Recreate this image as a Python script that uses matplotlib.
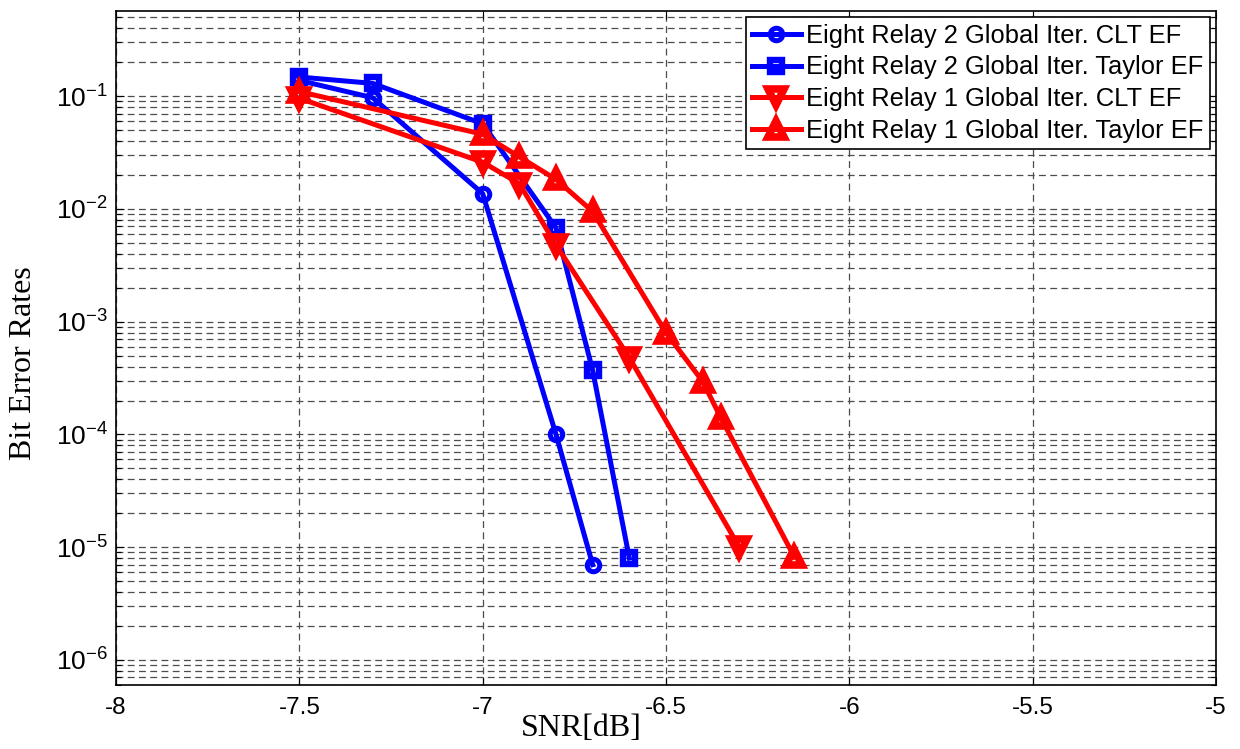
import numpy as np
import matplotlib
matplotlib.use("Agg")
import matplotlib.pyplot as plt
from matplotlib.ticker import FixedLocator, LogFormatterSciNotation, NullFormatter, MultipleLocator, FormatStrFormatter

plt.rcParams['font.family'] = ['Liberation Sans', 'DejaVu Sans']
plt.rcParams['axes.unicode_minus'] = False
plt.rcParams['mathtext.fontset'] = 'custom'
plt.rcParams['mathtext.rm'] = 'Liberation Sans'

# ---- data ----
snr_clt2 = [-7.5, -7.3, -7.0, -6.8, -6.7]
ber_clt2 = [0.138, 0.097, 0.0137, 1.0e-4, 7.0e-6]

snr_tay2 = [-7.5, -7.3, -7.0, -6.8, -6.7, -6.6]
ber_tay2 = [0.148, 0.130, 0.057, 0.0068, 3.7e-4, 8.0e-6]

snr_clt1 = [-7.5, -7.0, -6.9, -6.8, -6.6, -6.3]
ber_clt1 = [0.096, 0.026, 0.0168, 0.0048, 4.8e-4, 1.0e-5]

snr_tay1 = [-7.5, -7.0, -6.9, -6.8, -6.7, -6.5, -6.4, -6.35, -6.15]
ber_tay1 = [0.11, 0.046, 0.029, 0.0183, 0.0095, 8.0e-4, 2.95e-4, 1.4e-4, 8.2e-6]

labels = ['Eight Relay 2 Global Iter. CLT EF',
          'Eight Relay 2 Global Iter. Taylor EF',
          'Eight Relay 1 Global Iter. CLT EF',
          'Eight Relay 1 Global Iter. Taylor EF']

y_decades = [1e-6, 1e-5, 1e-4, 1e-3, 1e-2, 1e-1]

fig = plt.figure(figsize=(12.4, 7.49), dpi=100)
ax = fig.add_axes([116/1240, 1-685/749, 1100/1240, 674/749])

lw = 3.6
ax.semilogy(snr_clt2, ber_clt2, '-o', color='#0000ff', lw=lw, ms=9, mfc='none', mew=3.6, label=labels[0])
ax.semilogy(snr_tay2, ber_tay2, '-s', color='#0000ff', lw=lw, ms=8, mfc='none', mew=4.6, label=labels[1])
ax.semilogy(snr_clt1, ber_clt1, '-v', color='#ff0000', lw=lw, ms=12, mfc='none', mew=5.5, label=labels[2])
ax.semilogy(snr_tay1, ber_tay1, '-^', color='#ff0000', lw=lw, ms=12, mfc='none', mew=5.5, label=labels[3])

ax.set_xlim(-8, -5)
ax.set_ylim(6e-7, 0.57)
ax.xaxis.set_major_locator(MultipleLocator(0.5))
ax.xaxis.set_major_formatter(FormatStrFormatter('%g'))
minor_y = [d * k for d in y_decades for k in range(2, 10)]
minor_y = [v for v in minor_y if 6e-7 <= v <= 0.57] + [6e-7, 7e-7, 8e-7, 9e-7]
ax.yaxis.set_major_locator(FixedLocator(y_decades))
ax.yaxis.set_minor_locator(FixedLocator(sorted(set(minor_y))))
ax.yaxis.set_major_formatter(LogFormatterSciNotation())
ax.yaxis.set_minor_formatter(NullFormatter())

ax.tick_params(which='both', direction='in', top=True, right=True, labelsize=17.5, colors='black')
ax.tick_params(which='major', length=6, width=0.8)
ax.tick_params(which='minor', length=3.5, width=0.8, labelleft=False, labelbottom=False)
ax.tick_params(axis='x', pad=9)
ax.tick_params(axis='y', labelsize=19, pad=6)

dash = (0, (5.5, 3.5))
ax.grid(True, which='major', axis='both', color='0.3', lw=0.9, linestyle=dash)
ax.grid(True, which='minor', axis='y', color='0.3', lw=0.9, linestyle=dash)
ax.set_axisbelow(True)
for s in ax.spines.values():
    s.set_linewidth(1.2)
    s.set_color('black')

ax.set_xlabel('SNR[dB]', family='Liberation Serif', fontsize=23)
ax.xaxis.set_label_coords(0.4227, -0.043)
ax.set_ylabel('Bit Error Rates', family='Liberation Serif', fontsize=23)
ax.yaxis.set_label_coords(-0.071, 0.478)

leg = ax.legend(loc='upper right', fontsize=18.4, numpoints=1, handlelength=1.9,
                handletextpad=0.2, labelspacing=0.3, borderpad=0.25,
                borderaxespad=0.25, fancybox=False, framealpha=1,
                edgecolor='black')
leg.get_frame().set_linewidth(1.2)

fig.savefig('out.png', dpi=100, facecolor='white')
